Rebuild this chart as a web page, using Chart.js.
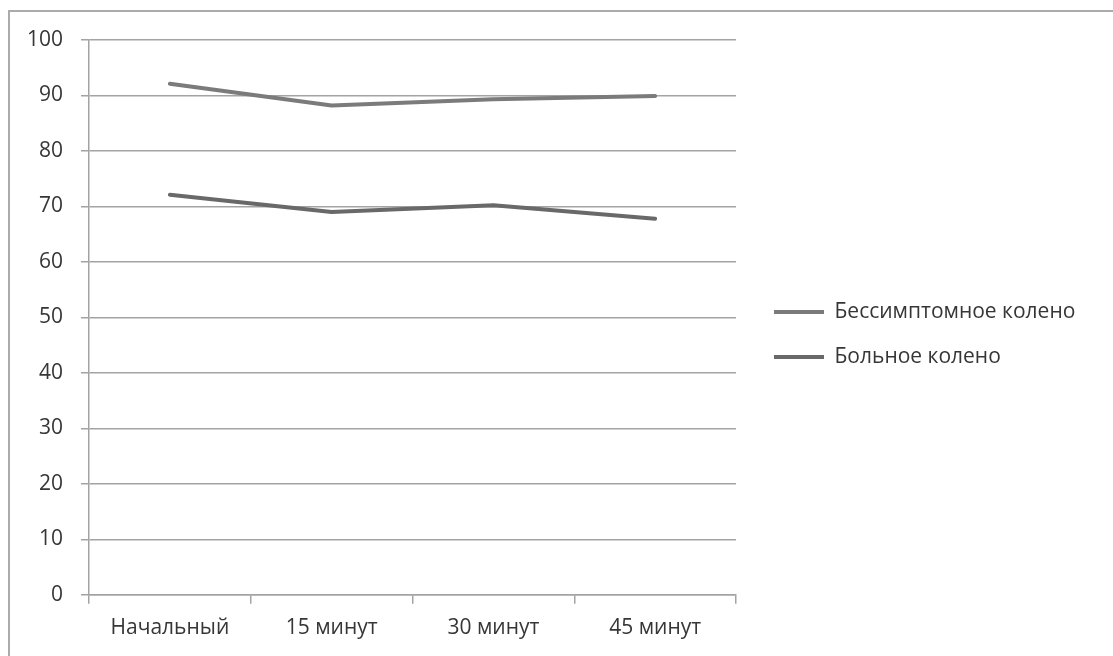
<!DOCTYPE html>
<html>
<head>
<meta charset="utf-8">
<script src="https://cdn.jsdelivr.net/npm/chart.js@4"></script>
<style>
  html, body { margin: 0; padding: 0; background: #ffffff; overflow: hidden; }
  #wrap { position: relative; width: 1113px; height: 656px; overflow: hidden; }
  #frame { position: absolute; left: 8px; top: 10px; width: 2000px; height: 2000px;
           border-left: 2px solid #ababab; border-top: 2px solid #ababab; }
  canvas { position: absolute; left: 0; top: 0; }
</style>
</head>
<body>
<div id="wrap">
  <div id="frame"></div>
  <canvas id="c" width="1113" height="656"></canvas>
</div>
<script>
const categories = ['Начальный', '15 минут', '30 минут', '45 минут'];
const seriesNames = ['Бессимптомное колено', 'Больное колено'];
const asymptomaticKnee = [92.1, 88.2, 89.3, 89.9];
const affectedKnee = [72.1, 69.0, 70.2, 67.8];
const yTicks = [0, 10, 20, 30, 40, 50, 60, 70, 80, 90, 100];

const FONT = '"Open Sans", "Noto Sans", sans-serif';
const FS = 21;
const TEXT = '#363636';
const GRID = '#a3a3a3';
const LEG_PAD = 24;
const LEG_BOX = 50;
const LEGEND_LEFT = 749;   // chart area right (735) + gap box
const LEGEND_EXTRA = 11;   // extra width the legend box takes in layout

const fitRight = {
  id: 'fitRight',
  beforeLayout(chart) {
    const ctx = chart.ctx;
    ctx.save();
    ctx.font = Chart.helpers.toFont({ family: FONT, size: FS }).string;
    const w = Math.max(...seriesNames.map(s => ctx.measureText(s).width));
    ctx.restore();
    chart.options.layout.padding.right = Math.max(0, chart.width - LEGEND_LEFT - (LEG_PAD + LEG_BOX + FS / 2 + w) - LEGEND_EXTRA);
  }
};

new Chart(document.getElementById('c'), {
  type: 'line',
  data: {
    labels: categories,
    datasets: [
      { label: seriesNames[0], data: asymptomaticKnee, borderColor: '#7b7b7b', backgroundColor: '#7b7b7b',
        borderWidth: 4, pointRadius: 0, pointHoverRadius: 0, tension: 0, borderCapStyle: 'round', borderJoinStyle: 'round' },
      { label: seriesNames[1], data: affectedKnee, borderColor: '#696969', backgroundColor: '#696969',
        borderWidth: 4, pointRadius: 0, pointHoverRadius: 0, tension: 0, borderCapStyle: 'round', borderJoinStyle: 'round' }
    ]
  },
  plugins: [fitRight],
  options: {
    responsive: false,
    animation: false,
    devicePixelRatio: 1,
    layout: { padding: { left: 0, top: 16, bottom: 3, right: 10 } },
    plugins: {
      tooltip: { enabled: false },
      legend: {
        position: 'right',
        align: 'center',
        maxWidth: 500,
        labels: {
          color: TEXT,
          font: { family: FONT, size: FS },
          boxWidth: LEG_BOX,
          boxHeight: 4,
          padding: LEG_PAD,
          generateLabels(chart) {
            return Chart.defaults.plugins.legend.labels.generateLabels(chart).map(l => ({ ...l, lineWidth: 0, fillStyle: l.strokeStyle }));
          }
        }
      }
    },
    scales: {
      x: {
        type: 'category',
        offset: true,
        grid: { offset: true, drawOnChartArea: false, color: GRID, lineWidth: 1.5, tickLength: 9 },
        border: { color: GRID, width: 1.5 },
        ticks: { color: TEXT, font: { family: FONT, size: FS }, padding: 12, maxRotation: 0, autoSkip: false }
      },
      y: {
        min: 0, max: 100,
        afterBuildTicks(s) { s.ticks = yTicks.map(v => ({ value: v })); },
        grid: { color: GRID, lineWidth: 1.5, tickLength: 8 },
        border: { color: GRID, width: 1.5 },
        ticks: { color: TEXT, font: { family: FONT, size: FS }, padding: 18 },
        afterFit(s) { s.width = 89; }
      },
      gapRight: {
        type: 'linear',
        position: 'right',
        display: true,
        grid: { display: false },
        border: { display: false },
        ticks: { display: false },
        afterFit(s) { s.width = 14; }
      },
      gapTop: {
        type: 'linear',
        position: 'top',
        display: true,
        grid: { display: false },
        border: { display: false },
        ticks: { display: false },
        afterFit(s) { s.height = 24; }
      }
    }
  }
});
</script>
</body>
</html>
